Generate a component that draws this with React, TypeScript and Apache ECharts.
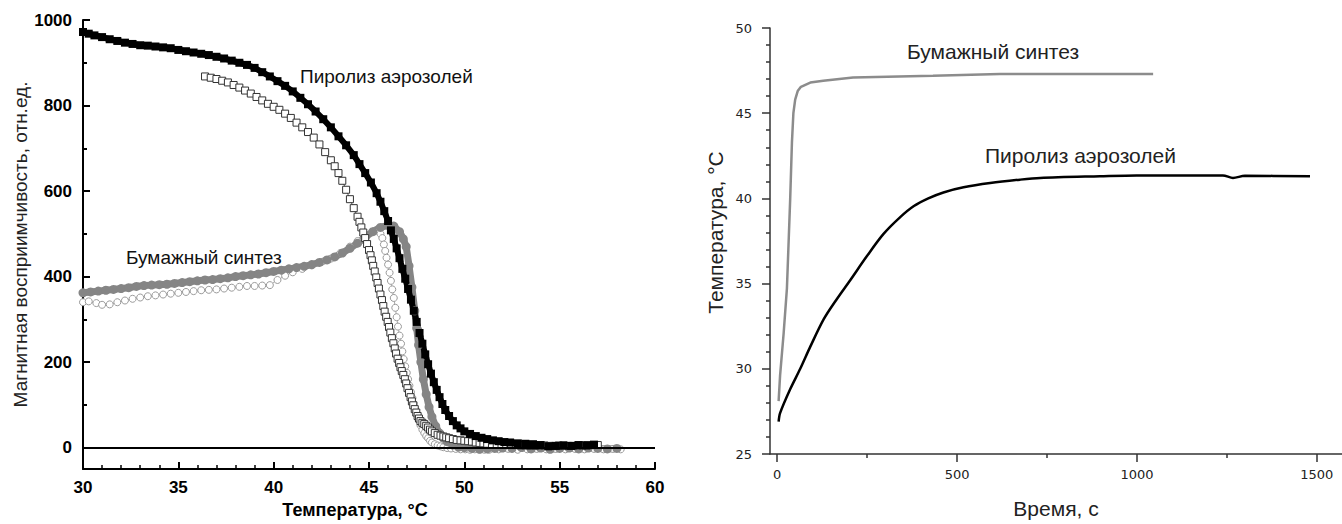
import React, { useEffect, useRef } from "react";
import * as echarts from "echarts";

// ---------- Left chart: magnetic susceptibility vs temperature ----------
const leftXTicks = [30, 35, 40, 45, 50, 55, 60];
const leftYTicks = [0, 200, 400, 600, 800, 1000];
const leftYMinorTicks = [100, 300, 500, 700, 900];

// Pyrolysis of aerosols, filled black squares
const pyroFilled: [number, number][] = [
  [30.0, 972], [30.3, 968], [30.6, 964], [31.0, 960], [31.4, 955], [31.8, 951], [32.2, 947],
  [32.6, 944], [33.0, 941], [33.4, 940], [33.8, 938], [34.2, 936], [34.6, 934], [35.0, 930],
  [35.4, 927], [35.8, 924], [36.2, 921], [36.6, 918], [37.0, 914], [37.4, 910], [37.8, 905],
  [38.2, 900], [38.6, 895], [39.0, 888], [39.4, 878], [39.8, 868], [40.2, 857], [40.6, 846],
  [41.0, 833], [41.4, 818], [41.8, 803], [42.2, 786], [42.6, 768], [43.0, 749], [43.4, 728],
  [43.8, 707], [44.2, 684], [44.5, 663], [44.8, 642], [45.1, 620], [45.4, 595], [45.6, 575],
  [45.8, 553], [46.0, 530], [46.15, 508], [46.3, 488], [46.45, 466], [46.6, 443], [46.75, 418],
  [46.9, 395], [47.05, 371], [47.2, 346], [47.35, 320], [47.5, 294], [47.65, 268], [47.8, 243],
  [47.95, 218], [48.1, 195], [48.25, 173], [48.4, 153], [48.55, 135], [48.7, 118], [48.85, 102],
  [49.0, 88], [49.2, 74], [49.4, 62], [49.6, 52], [49.8, 45], [50.0, 38], [50.3, 32], [50.6, 27],
  [50.9, 23], [51.2, 20], [51.5, 17], [51.8, 15], [52.1, 13], [52.4, 12], [52.8, 10], [53.2, 9],
  [53.6, 8], [54.0, 6], [54.4, 3], [54.8, 4], [55.2, 5], [55.6, 4], [56.0, 6], [56.4, 5], [56.8, 7],
];

// Pyrolysis of aerosols, open squares
const pyroOpen: [number, number][] = [
  [36.4, 868], [36.7, 865], [37.0, 862], [37.3, 858], [37.6, 854], [37.9, 848], [38.2, 842],
  [38.5, 835], [38.8, 828], [39.1, 820], [39.4, 812], [39.7, 804], [40.0, 797], [40.3, 790],
  [40.6, 781], [40.9, 771], [41.2, 760], [41.5, 749], [41.8, 738], [42.1, 725], [42.4, 709],
  [42.7, 691], [43.0, 672], [43.2, 658], [43.4, 642], [43.6, 624], [43.8, 603], [44.0, 581],
  [44.2, 560], [44.4, 540], [44.5, 528], [44.6, 515], [44.7, 503], [44.8, 490], [44.9, 476],
  [45.0, 462], [45.08, 450], [45.15, 438], [45.22, 425], [45.3, 412], [45.38, 398], [45.45, 385],
  [45.52, 372], [45.6, 358], [45.68, 345], [45.75, 331], [45.82, 318], [45.9, 306], [45.98, 294],
  [46.05, 282], [46.12, 269], [46.2, 256], [46.28, 244], [46.35, 232], [46.42, 220], [46.5, 208],
  [46.58, 198], [46.65, 188], [46.72, 179], [46.8, 170], [46.88, 160], [46.95, 150], [47.02, 139],
  [47.1, 128], [47.18, 118], [47.25, 108], [47.32, 99], [47.4, 90], [47.48, 82], [47.55, 74],
  [47.62, 68], [47.7, 62], [47.8, 58], [47.9, 55], [48.0, 51], [48.1, 47], [48.2, 42], [48.3, 38],
  [48.45, 34], [48.6, 30], [48.75, 28], [48.9, 26], [49.05, 24], [49.2, 22], [49.4, 20],
  [49.6, 18], [49.8, 17], [50.0, 16], [50.2, 15], [50.4, 14], [50.6, 12], [50.8, 11], [51.0, 10],
  [51.2, 9], [51.45, 8], [51.7, 8], [51.95, 7], [52.2, 7], [52.45, 6], [52.7, 6], [52.95, 5],
  [53.2, 5], [53.45, 4], [53.7, 4], [53.95, 5], [54.2, 5], [54.45, 4], [54.7, 4], [54.95, 5],
  [55.2, 5], [55.45, 4], [55.7, 4], [55.95, 5], [56.2, 5], [56.45, 6], [56.7, 6], [57.0, 6],
];

// Paper synthesis, filled gray circles
const paperFilled: [number, number][] = [
  [30.0, 362], [30.4, 364], [30.8, 366], [31.2, 368], [31.6, 370], [32.0, 372], [32.4, 374],
  [32.8, 377], [33.2, 379], [33.6, 380], [34.0, 381], [34.4, 382], [34.8, 384], [35.2, 386],
  [35.6, 388], [36.0, 390], [36.4, 392], [36.8, 393], [37.2, 395], [37.6, 397], [38.0, 400],
  [38.4, 402], [38.8, 404], [39.2, 406], [39.6, 409], [40.0, 412], [40.4, 415], [40.8, 418],
  [41.2, 421], [41.6, 424], [42.0, 428], [42.4, 433], [42.8, 439], [43.2, 446], [43.6, 455],
  [44.0, 466], [44.4, 478], [44.8, 492], [45.2, 505], [45.6, 515], [46.0, 520], [46.3, 518],
  [46.6, 505], [46.8, 488], [46.95, 470], [47.1, 425], [47.25, 375], [47.4, 320], [47.5, 280],
  [47.6, 240], [47.72, 200], [47.85, 160], [48.0, 125], [48.15, 95], [48.3, 72], [48.5, 50],
  [48.7, 34], [48.9, 22], [49.1, 14], [49.4, 6], [49.7, 1], [50.0, 0], [50.4, -2], [50.8, -4],
  [51.2, -3], [51.6, -2], [52.0, -1], [52.5, -2], [53.0, 0], [53.5, -3], [54.0, -1], [54.5, -4],
  [55.0, -2], [55.5, -1], [56.0, -3], [56.5, -1], [57.0, -2], [57.5, -3], [58.0, -2],
];

// Paper synthesis, open circles
const paperOpen: [number, number][] = [
  [30.0, 340], [30.3, 342], [30.7, 338], [31.0, 334], [31.4, 335], [31.8, 340], [32.2, 344],
  [32.6, 348], [33.0, 351], [33.4, 354], [33.8, 356], [34.2, 358], [34.6, 360], [35.0, 362],
  [35.4, 364], [35.8, 366], [36.2, 368], [36.6, 369], [37.0, 370], [37.4, 372], [37.8, 374],
  [38.2, 376], [38.6, 378], [39.0, 378], [39.4, 379], [39.8, 380], [40.2, 392], [40.6, 402],
  [41.0, 410], [41.5, 418], [42.0, 426], [42.5, 434], [43.0, 442], [43.5, 455], [44.0, 470],
  [44.4, 483], [44.8, 496], [45.2, 505], [45.5, 506], [45.6, 500], [45.7, 490], [45.78, 475],
  [45.85, 460], [45.92, 444], [46.0, 428], [46.08, 409], [46.15, 390], [46.22, 370], [46.3, 350],
  [46.38, 327], [46.45, 305], [46.52, 283], [46.6, 262], [46.68, 243], [46.75, 225], [46.82, 207],
  [46.9, 190], [46.98, 175], [47.05, 160], [47.12, 145], [47.2, 130], [47.28, 116], [47.35, 103],
  [47.42, 90], [47.5, 78], [47.6, 65], [47.7, 52], [47.8, 42], [47.9, 34], [48.0, 27], [48.1, 22],
  [48.2, 16], [48.3, 12], [48.45, 8], [48.6, 5], [48.75, 3], [48.9, 1], [49.1, -1], [49.3, -2],
  [49.55, -3], [49.8, -4], [50.05, -4], [50.3, -5], [50.55, -4], [50.8, -4], [51.05, -5],
  [51.3, -5], [51.8, -4], [52.3, -3], [52.8, -5], [53.3, -4], [53.8, -3], [54.3, -4], [54.8, -3],
  [55.3, -4], [55.8, -3], [56.3, -4], [56.8, -3], [57.3, -4], [57.8, -3], [58.2, -4],
];

// ---------- Right chart: temperature vs time ----------
const rightXTicks = [0, 500, 1000, 1500];
const rightXMinorTicks = [250, 750, 1250];

const paperHeating: [number, number][] = [
  [4, 28.1], [8, 29.6], [18, 32.1], [27, 34.7], [31, 37.0], [36, 39.9], [41, 43.3], [45, 45.0],
  [50, 45.8], [57, 46.3], [66, 46.55], [92, 46.8], [128, 46.9], [211, 47.1], [433, 47.2],
  [619, 47.3], [1045, 47.3],
];

const pyroHeating: [number, number][] = [
  [4, 26.9], [8, 27.4], [36, 28.8], [64, 30.0], [92, 31.3], [129, 32.9], [166, 34.1],
  [203, 35.2], [249, 36.6], [295, 37.9], [342, 38.9], [380, 39.55], [420, 40.0], [462, 40.35],
  [518, 40.65], [592, 40.9], [675, 41.1], [731, 41.2], [897, 41.3], [999, 41.35], [1239, 41.35],
  [1267, 41.2], [1300, 41.33], [1481, 41.3],
];

const FONT = "'Liberation Sans', Arial, sans-serif";
const RFONT = "'DejaVu Sans', 'Liberation Sans', sans-serif";
const plain = (v: number) => String(v);

export default function App() {
  const ref = useRef<HTMLDivElement>(null);

  useEffect(() => {
    if (!ref.current) return;
    const chart = echarts.init(ref.current, null, { renderer: "svg" });

    const boldLabel = { fontFamily: FONT, fontSize: 17, fontWeight: "bold" as const, color: "#000", formatter: plain };
    const rightLabel = { fontFamily: RFONT, fontSize: 13, color: "#222", formatter: plain };

    chart.setOption({
      animation: false,
      backgroundColor: "#fff",
      grid: [
        { left: 83, top: 20, width: 572, height: 451.5 },
        { left: 770, top: 28, width: 572, height: 427 },
      ],
      xAxis: [
        {
          gridIndex: 0, type: "value", min: 30, max: 60, interval: 5, position: "bottom",
          axisLine: { show: true, onZero: false, lineStyle: { color: "#000", width: 2 } },
          axisTick: { show: true, inside: true, length: 7, lineStyle: { color: "#000", width: 2 } },
          minorTick: { show: true, splitNumber: 5, length: 4, lineStyle: { color: "#000", width: 1.5 } },
          axisLabel: { ...boldLabel, margin: 10, customValues: leftXTicks },
          splitLine: { show: false },
          name: "Температура, °С", nameLocation: "middle", nameGap: 32,
          nameTextStyle: { fontFamily: FONT, fontSize: 18, fontWeight: "bold", color: "#000", padding: [0, 28, 0, 0] },
        },
        {
          gridIndex: 1, type: "value", min: -20, max: 1570, position: "bottom",
          axisLine: { show: true, onZero: false, lineStyle: { color: "#333", width: 1.5 } },
          axisTick: { show: true, inside: false, length: 8, customValues: rightXTicks, lineStyle: { color: "#333", width: 1.5 } },
          axisLabel: { ...rightLabel, margin: 14, customValues: rightXTicks },
          splitLine: { show: false },
          name: "Время, с", nameLocation: "middle", nameGap: 44,
          nameTextStyle: { fontFamily: FONT, fontSize: 21, color: "#222" },
        },
        {
          gridIndex: 1, type: "value", min: -20, max: 1570, position: "bottom", offset: 0,
          axisLine: { show: false, onZero: false },
          axisTick: { show: true, inside: false, length: 4, customValues: rightXMinorTicks, lineStyle: { color: "#333", width: 1.5 } },
          axisLabel: { show: false },
          splitLine: { show: false },
        },
      ],
      yAxis: [
        {
          gridIndex: 0, type: "value", min: -50, max: 1000, position: "left",
          axisLine: { show: true, onZero: false, lineStyle: { color: "#000", width: 2 } },
          axisTick: { show: true, inside: true, length: 7, customValues: leftYTicks, lineStyle: { color: "#000", width: 2 } },
          axisLabel: { ...boldLabel, margin: 11, customValues: leftYTicks },
          splitLine: { show: false },
          name: "Магнитная восприимчивость, отн.ед.", nameLocation: "middle", nameGap: 52,
          nameTextStyle: { fontFamily: FONT, fontSize: 19, color: "#222" },
        },
        {
          gridIndex: 0, type: "value", min: -50, max: 1000, position: "left", offset: 0,
          axisLine: { show: false, onZero: false },
          axisTick: { show: true, inside: true, length: 4, customValues: leftYMinorTicks, lineStyle: { color: "#000", width: 2 } },
          axisLabel: { show: false },
          splitLine: { show: false },
        },
        {
          gridIndex: 1, type: "value", min: 25, max: 50, interval: 5, position: "left",
          axisLine: { show: true, onZero: false, lineStyle: { color: "#333", width: 1.5 } },
          axisTick: { show: true, inside: false, length: 8, lineStyle: { color: "#333", width: 1.5 } },
          minorTick: { show: true, splitNumber: 5, length: 4, lineStyle: { color: "#333", width: 1.5 } },
          axisLabel: { ...rightLabel, margin: 18 },
          splitLine: { show: false },
          name: "Температура, °С", nameLocation: "middle", nameGap: 44,
          nameTextStyle: { fontFamily: FONT, fontSize: 21, color: "#222", padding: [0, 0, 0, 17] },
        },
      ],
      graphic: [
        { type: "text", left: 300, top: 67, style: { text: "Пиролиз аэрозолей", font: `19px ${FONT}`, fill: "#111" } },
        { type: "text", left: 126, top: 248, style: { text: "Бумажный синтез", font: `19px ${FONT}`, fill: "#111" } },
        { type: "text", left: 907, top: 41, style: { text: "Бумажный синтез", font: `21px ${FONT}`, fill: "#222" } },
        { type: "text", left: 985, top: 145, style: { text: "Пиролиз аэрозолей", font: `21px ${FONT}`, fill: "#222" } },
      ],
      series: [
        {
          type: "line", xAxisIndex: 0, yAxisIndex: 0, data: [], silent: true,
          markLine: {
            silent: true, symbol: "none", label: { show: false },
            lineStyle: { color: "#000", width: 2, type: "solid" },
            data: [{ yAxis: 0 }],
          },
        },
        {
          name: "paperOpen", type: "line", xAxisIndex: 0, yAxisIndex: 0, data: paperOpen,
          symbol: "circle", symbolSize: 7, showSymbol: true, showAllSymbol: true,
          lineStyle: { color: "#aaa", width: 1 },
          itemStyle: { color: "#fff", borderColor: "#9a9a9a", borderWidth: 1 },
        },
        {
          name: "paperFilled", type: "line", xAxisIndex: 0, yAxisIndex: 0, data: paperFilled,
          symbol: "circle", symbolSize: 9, showSymbol: true, showAllSymbol: true,
          lineStyle: { color: "#858585", width: 7 },
          itemStyle: { color: "#858585" },
        },
        {
          name: "pyroOpen", type: "line", xAxisIndex: 0, yAxisIndex: 0, data: pyroOpen,
          symbol: "rect", symbolSize: 7, showSymbol: true, showAllSymbol: true,
          lineStyle: { color: "#555", width: 1 },
          itemStyle: { color: "#fff", borderColor: "#333", borderWidth: 1 },
        },
        {
          name: "pyroFilled", type: "line", xAxisIndex: 0, yAxisIndex: 0, data: pyroFilled,
          symbol: "rect", symbolSize: 8, showSymbol: true, showAllSymbol: true,
          lineStyle: { color: "#000", width: 6 },
          itemStyle: { color: "#000" },
        },
        {
          name: "paperHeating", type: "line", xAxisIndex: 1, yAxisIndex: 2, data: paperHeating,
          showSymbol: false,
          lineStyle: { color: "#8c8c8c", width: 2.5 },
        },
        {
          name: "pyroHeating", type: "line", xAxisIndex: 1, yAxisIndex: 2, data: pyroHeating,
          showSymbol: false, smooth: 0.3,
          lineStyle: { color: "#000", width: 2.5 },
        },
      ],
    });

    return () => chart.dispose();
  }, []);

  return (
    <div
      ref={ref}
      style={{ position: "absolute", left: 0, top: 0, width: 1342, height: 524, background: "#fff" }}
    />
  );
}
